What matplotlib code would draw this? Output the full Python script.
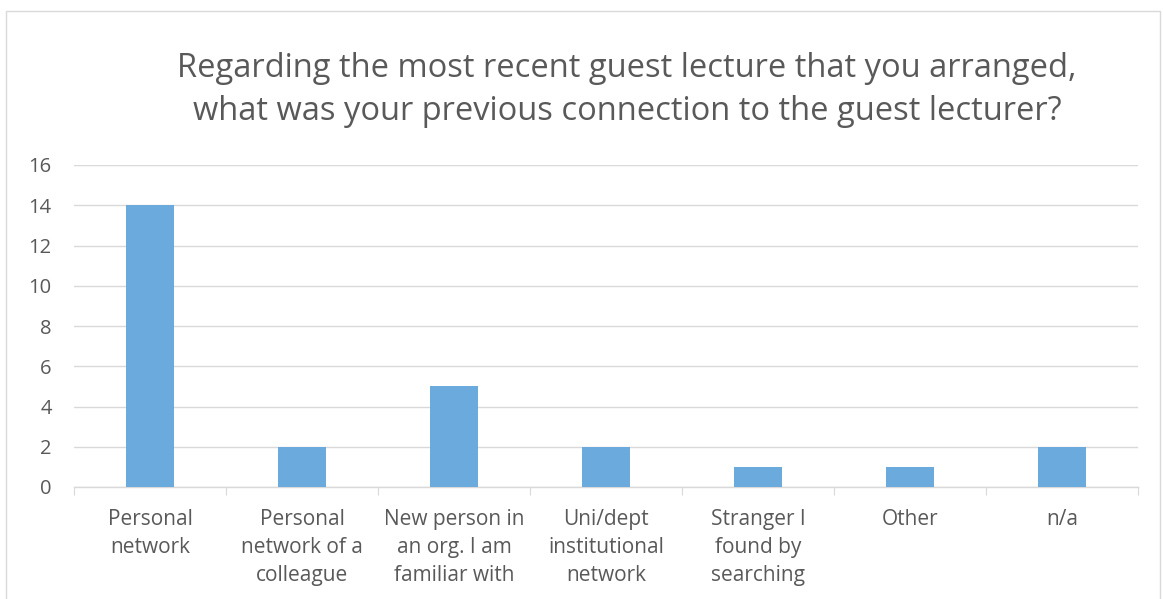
import matplotlib
matplotlib.use("Agg")
import matplotlib.pyplot as plt
from matplotlib.patches import Rectangle

categories = ["Personal\nnetwork", "Personal\nnetwork of a\ncolleague",
              "New person in\nan org. I am\nfamiliar with", "Uni/dept\ninstitutional\nnetwork",
              "Stranger I\nfound by\nsearching", "Other", "n/a"]
values = [14, 2, 5, 2, 1, 1, 2]
yticks = [0, 2, 4, 6, 8, 10, 12, 14, 16]
title = "Regarding the most recent guest lecture that you arranged,\nwhat was your previous connection to the guest lecturer?"

plt.rcParams['font.family'] = ['Open Sans', 'DejaVu Sans']
W, H = 1163, 599
fig = plt.figure(figsize=(W/100, H/100), dpi=100)
fig.patches.append(Rectangle((6/W, -0.1), (1160-6)/W, 1 - 11/H + 0.1, transform=fig.transFigure,
                             fill=False, edgecolor='#d9d9d9', linewidth=1))

ax = fig.add_axes([74/W, 1 - 487/H, (1138-74)/W, (487-165)/H])
x = range(len(categories))
ax.bar(x, values, width=0.315, color='#6aaadc', zorder=3)
ax.set_xlim(-0.5, len(categories) - 0.5)
ax.set_ylim(0, 16)
ax.set_yticks(yticks)
ax.set_yticklabels([str(v) for v in yticks], fontsize=14.5, color='#595959')
ax.yaxis.grid(True, color='#d9d9d9', linewidth=1, zorder=0)
ax.tick_params(axis='y', length=0, pad=16)
for s in ['top', 'right', 'left']:
    ax.spines[s].set_visible(False)
ax.spines['bottom'].set_color('#d9d9d9')
ax.spines['bottom'].set_linewidth(1)
ax.set_xticks([i - 0.5 for i in range(len(categories) + 1)], minor=False)
ax.set_xticklabels([])
ax.tick_params(axis='x', length=6, color='#d9d9d9', direction='out')
for i, c in enumerate(categories):
    ax.annotate(c, xy=(i, 0), xycoords='data', xytext=(0, -15.5), textcoords='offset points',
                ha='center', va='top', fontsize=15, color='#595959', linespacing=1.44)

fig.text(627/W, 1 - 90/H, title, ha='center', va='center', fontsize=23.5,
         color='#595959', linespacing=1.38)
fig.savefig('out.png', dpi=100)
